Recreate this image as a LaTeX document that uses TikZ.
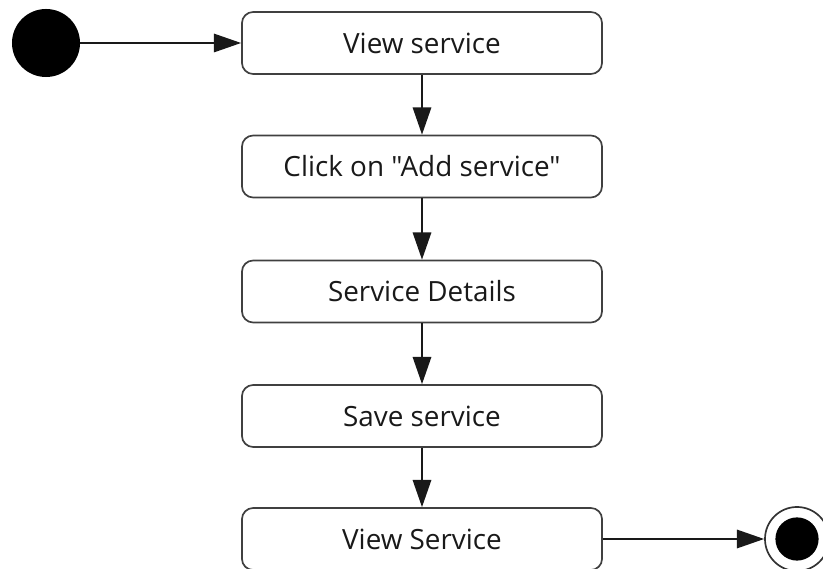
\documentclass[tikz,border=0pt]{standalone}
\usepackage{fontspec}
\setmainfont{Open Sans}[Ligatures=TeXOff]
\usetikzlibrary{arrows.meta}

\begin{document}
\begin{tikzpicture}[x=0.025cm, y=-0.025cm,
    state/.style={draw=black!75, line width=1.2pt, rounded corners=0.28cm,
      minimum width=9cm, minimum height=1.55cm, inner sep=0pt,
      font=\fontsize{19.8}{23}\selectfont, text=black!90},
    flow/.style={-{Triangle[length=0.68cm,width=0.46cm]}, line width=1.3pt, black!90}]
    \useasboundingbox (0,0) rectangle (823,569);
    % start and end points
    \node[circle, fill=black, minimum size=1.7cm, inner sep=0pt] (start) at (46,43) {};
    \node[circle, draw=black!80, line width=1.2pt, minimum size=1.6cm, inner sep=0pt] (stop) at (797,539) {};
    \node[circle, fill=black, minimum size=1.08cm, inner sep=0pt] (stopdot) at (stop) {};
    % activities
    \node[state] (view)    at (422, 43)    {View service};
    \node[state] (click)   at (422, 166.5) {Click on "Add service"};
    \node[state] (details) at (422, 291.5) {Service Details};
    \node[state] (save)    at (422, 416)   {Save service};
    \node[state] (viewsrv) at (422, 539)   {View Service};
    % transitions
    \draw[flow] (start) -- (view);
    \draw[flow] (view) -- (click);
    \draw[flow] (click) -- (details);
    \draw[flow] (details) -- (save);
    \draw[flow] (save) -- (viewsrv);
    \draw[flow] (viewsrv) -- (stop);
\end{tikzpicture}
\end{document}
